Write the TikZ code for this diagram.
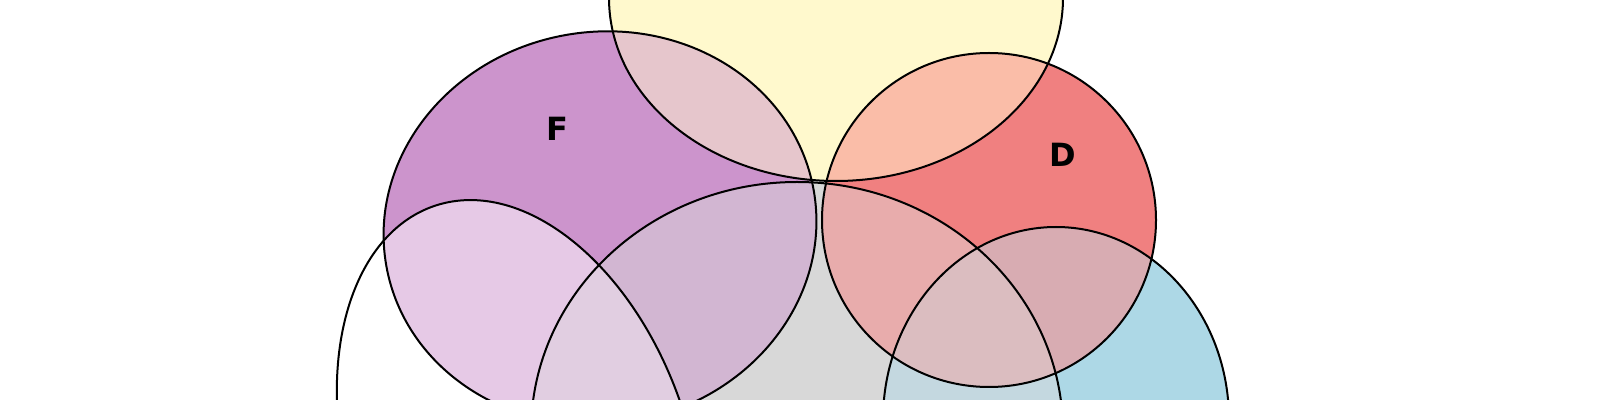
\documentclass[tikz,border=0pt]{standalone}
\usepackage{fontspec}
\setsansfont{DejaVu Sans}
\definecolor{cY}{RGB}{255,249,205}
\definecolor{cF}{RGB}{204,148,204}
\definecolor{cD}{RGB}{240,128,128}
\definecolor{cB}{RGB}{173,216,230}
\definecolor{cG}{RGB}{216,216,216}
\definecolor{cW}{RGB}{255,255,255}
\colorlet{cYF}{cY!50!cF}
\definecolor{cYD}{RGB}{250,189,168}
\colorlet{cYG}{cY!50!cG}
\colorlet{cFW}{cF!50!cW}
\colorlet{cFG}{cF!50!cG}
\colorlet{cWG}{cW!50!cG}
\definecolor{cDG}{RGB}{232,172,172}
\definecolor{cDB}{RGB}{216,172,178}
\definecolor{cGB}{RGB}{196,216,224}
\colorlet{cFWG}{cFW!67!cG}
\definecolor{cDGB}{RGB}{219,189,192}
\colorlet{cYFG}{cYF!67!cG}
\colorlet{cYDG}{cYD!67!cG}
\newcommand\EllY[1]{\path[#1] (836,-2) ellipse [x radius=227, y radius=183];}
\newcommand\EllF[1]{\path[#1, rotate around={10:(600,228)}] (600,228) ellipse [x radius=217, y radius=196];}
\newcommand\EllD[1]{\path[#1] (989,220) circle [radius=167];}
\newcommand\EllB[1]{\path[#1] (1056,420) ellipse [x radius=173, y radius=193];}
\newcommand\EllG[1]{\path[#1] (797,432) ellipse [x radius=266, y radius=250];}
\newcommand\EllW[1]{\path[#1, rotate around={-71.7:(520,462)}] (520,462) ellipse [x radius=270, y radius=171];}
\newcommand\PairFill[3]{\begin{scope}#1{clip}#2{fill=#3}\end{scope}}
\newcommand\TripleFill[4]{\begin{scope}#1{clip}#2{clip}#3{fill=#4}\end{scope}}
\begin{document}
\begin{tikzpicture}[x=0.5pt,y=-0.5pt,
  outline/.style={draw=black, line width=1pt},
  lbl/.style={font=\sffamily\bfseries\fontsize{16}{16}\selectfont, inner sep=0pt, anchor=center}]
\useasboundingbox (0,0) rectangle (1600,400);
\fill[white] (0,0) rectangle (1600,400);
\begin{scope}
\clip (0,0) rectangle (1600,400);
% single sets
\EllY{fill=cY}
\EllF{fill=cF}
\EllD{fill=cD}
\EllB{fill=cB}
\EllG{fill=cG}
\EllW{fill=cW}
% pairwise overlaps
\PairFill\EllY\EllF{cYF}
\PairFill\EllY\EllD{cYD}
\PairFill\EllY\EllG{cYG}
\PairFill\EllF\EllW{cFW}
\PairFill\EllF\EllG{cFG}
\PairFill\EllW\EllG{cWG}
\PairFill\EllD\EllG{cDG}
\PairFill\EllD\EllB{cDB}
\PairFill\EllG\EllB{cGB}
% triple overlaps
\TripleFill\EllF\EllW\EllG{cFWG}
\TripleFill\EllD\EllG\EllB{cDGB}
\TripleFill\EllY\EllF\EllG{cYFG}
\TripleFill\EllY\EllD\EllG{cYDG}
% outlines
\EllY{outline}
\EllF{outline}
\EllD{outline}
\EllB{outline}
\EllG{outline}
\EllW{outline}
\end{scope}
\node[lbl] (lF) at (557,129) {F};
\node[lbl] (lD) at (1063,155) {D};
\end{tikzpicture}
\end{document}
